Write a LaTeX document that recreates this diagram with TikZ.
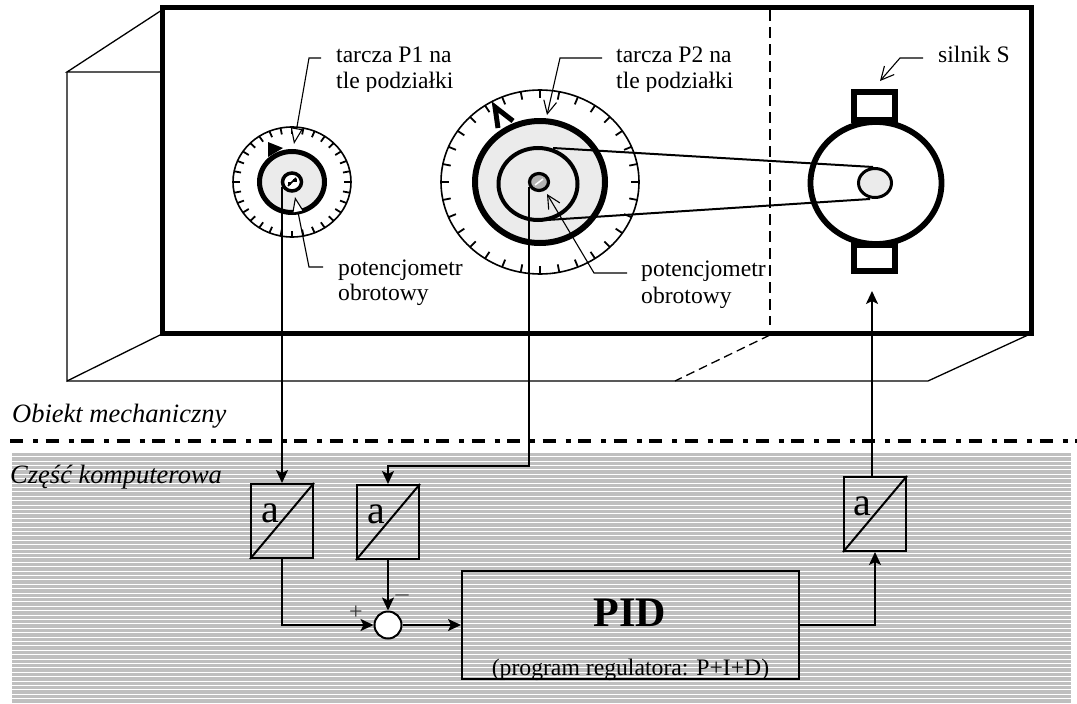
\documentclass[tikz,border=0pt]{standalone}
\usepackage{fontspec}
\setmainfont{Liberation Serif}
\usetikzlibrary{arrows.meta}
\definecolor{hatchgray}{gray}{0.75}
\newcommand{\txtsize}{\fontsize{23.6}{26}\selectfont}
\tikzset{
  label text/.style={anchor=base west, inner sep=0pt, font=\txtsize},
  italic text/.style={anchor=base west, inner sep=0pt, font=\fontsize{26.5}{28}\selectfont\itshape},
  adc/.style={draw, line width=2pt, minimum width=62pt, minimum height=74pt, inner sep=0pt},
  adc letter/.style={inner sep=0pt, font=\fontsize{40}{42}\selectfont},
  signal/.style={line width=2pt, -{Stealth[length=13pt, width=12pt, inset=3pt]}},
  leader/.style={line width=1.1pt, -{Straight Barb[length=13pt, width=13pt]}},
  open leader/.style={line width=1.1pt, -{Triangle[open, length=16pt, width=12pt, fill=white]}},
  dial fill/.style={fill=black!8},
}
\begin{document}
\begin{tikzpicture}[x=1pt, y=-1pt]
  \useasboundingbox (0,0) rectangle (1077,704);

  % ---- hatched computer part ----
  \fill[hatchgray] (12,453) rectangle (1071,704);
  \foreach \row in {0,...,56}
    \fill[white] (12,{456.2+4.4*\row}) rectangle (1071,{457.2+4.4*\row});

  % ---- housing of the mechanical part ----
  \draw[line width=1.3pt] (162,10) -- (67,72) -- (160,72);
  \draw[line width=1.3pt] (67,72) -- (67,381) -- (160,335);
  \draw[line width=1.3pt] (67,381) -- (928,381) -- (1028,335);
  \draw[line width=1.3pt, dash pattern=on 9pt off 5pt] (770,335) -- (675,381);
  \draw[line width=1.5pt, dash pattern=on 11pt off 6pt] (770,10) -- (770,325);
  \draw[line width=5pt] (162.5,7.5) rectangle (1031,333);

  % ---- dial P1 ----
  \begin{scope}[shift={(292,182)}]
    \draw[line width=1.6pt] (0,0) ellipse (59 and 55);
    \foreach \tick in {0,...,31}
      \draw[line width=1.8pt] ({59*cos(11.25*\tick)},{55*sin(11.25*\tick)}) -- ({52*cos(11.25*\tick)},{48.5*sin(11.25*\tick)});
    \draw[line width=5pt, dial fill] (0,0) ellipse (32.5 and 30.5);
    % pointer of the dial
    \fill (-24,-40) -- (-24,-25) -- (-9,-34) -- cycle;
    \draw[line width=3.5pt, fill=white] (0,0) ellipse (9.5 and 9);
    \draw[line width=1.6pt] (-4,4) -- (4,-4);
    \fill (-4.5,0) rectangle (-1,3);
    \fill (1,-3) rectangle (4.5,0);
  \end{scope}

  % ---- dial P2 ----
  \begin{scope}[shift={(540,182)}]
    \draw[line width=1.6pt] (0,0) ellipse (99 and 92);
    \foreach \tick in {0,...,31}
      \draw[line width=1.8pt] ({99*cos(11.25*\tick)},{92*sin(11.25*\tick)}) -- ({91*cos(11.25*\tick)},{84*sin(11.25*\tick)});
    \draw[line width=6pt, dial fill] (0,0) ellipse (65 and 61);
    \draw[line width=4pt] (-2,2) ellipse (39.5 and 36);
    % pointer of the dial
    \draw[line width=5pt] (-42,-54) -- (-45,-75) -- (-27,-61);
    \draw[line width=3.2pt, fill=black!30] (-1,0) ellipse (9.5 and 8.5);
    \draw[white, line width=1.5pt] (-5,3) -- (3,-3);
  \end{scope}

  % ---- motor S ----
  \draw[line width=5.5pt] (854,92) rectangle (895,120);
  \draw[line width=5.5pt] (854,245) rectangle (895,271);
  \draw[line width=5.8pt, fill=white] (876,183) ellipse (65.5 and 61);
  \draw[line width=2pt] (553,148) -- (873,167);
  \draw[line width=2pt] (547,220) -- (870,199);
  \draw[line width=3pt, dial fill] (875,183) ellipse (16.5 and 14.5);

  % ---- texts of the upper part ----
  \begin{scope}
    \clip (330,30) rectangle (460,91);
    \node[label text] (tarczaA) at (336,62) {tarcza P1 na};
    \node[label text] (tloA) at (336,88) {tle podziałki};
  \end{scope}
  \begin{scope}
    \clip (610,30) rectangle (745,91);
    \node[label text] (tarczaB) at (616,62) {tarcza P2 na};
    \node[label text] (tloB) at (616,88) {tle podziałki};
  \end{scope}
  \node[label text] (silnik) at (938,62) {silnik S};
  \begin{scope}
    \clip (330,255) rectangle (470,305);
    \node[label text] (potA) at (338,275) {potencjometr};
    \node[label text] (obrA) at (338,300) {obrotowy};
  \end{scope}
  \begin{scope}
    \clip (635,255) rectangle (769,307);
    \node[label text] (potB) at (641,276) {potencjometr};
    \node[label text] (obrB) at (641,303) {obrotowy};
  \end{scope}
  \node[italic text] (obiekt) at (12,422) {Obiekt mechaniczny};
  \node[italic text] (czesc) at (10,483) {Część komputerowa};

  % ---- leaders to the dials and the motor ----
  \coordinate (tipA) at (294,144);
  \coordinate (tipB) at (295,197);
  \coordinate (tipC) at (547,115);
  \coordinate (tipD) at (547,194);
  \coordinate (tipE) at (880,81);
  \draw[open leader] (321,58) -- (309,58) -- (tipA);
  \draw[open leader] (323,267) -- (309,267) -- (tipB);
  \draw[leader] (602,58) -- (560,58) -- (tipC);
  \draw[leader] (627,273) -- (594,273) -- (tipD);
  \draw[leader] (923,58) -- (900,58) -- (tipE);

  % ---- separating line ----
  \draw[line width=3.4pt, dash pattern=on 13pt off 10pt on 5pt off 7.5pt] (10,441) -- (1077,441);

  % ---- control loop ----
  \node[adc] (adcA) at (282,521) {};
  \node[adc] (adcB) at (388,522) {};
  \node[adc] (adcC) at (875,514) {};
  \node[draw, line width=2pt, minimum width=337pt, minimum height=108pt, inner sep=0pt] (pid) at (630.5,625) {};
  \node[circle, draw, fill=white, line width=2pt, minimum size=27pt, inner sep=0pt] (sum) at (388,625) {};
  \foreach \conv in {adcA,adcB,adcC}
    \draw[line width=2pt] (\conv.south west) -- (\conv.north east);
  \node[adc letter] (letterA) at (270,513) {a};
  \node[adc letter] (letterB) at (376,514) {a};
  \node[adc letter] (letterC) at (862,506) {a};
  \node[inner sep=0pt, font=\fontsize{42}{44}\selectfont\bfseries] (pidname) at (630,613) {PID};
  \node[inner sep=0pt, anchor=base, font=\fontsize{23.7}{26}\selectfont] (pidtext) at (630.5,675) {(program regulatora: P+I+D)};
  \node[inner sep=0pt, font=\fontsize{24}{26}\selectfont, black!80] (plus) at (356,613) {+};
  \node[inner sep=0pt, font=\fontsize{26}{28}\selectfont, black!70] (minus) at (402,598) {--};

  \coordinate (hubA) at (282,187);
  \coordinate (hubB) at (529,187);
  \coordinate (kneeB) at (388,466);
  \coordinate (motorIn) at (872,291);
  \draw[signal] (hubA) -- (adcA.north);
  \draw[signal] (hubB) |- (kneeB) -- (adcB.north);
  \draw[signal] (adcA.south) |- (sum.west);
  \draw[signal] (adcB.south) -- (sum.north);
  \draw[signal] (sum.east) -- (pid.west);
  \draw[signal] (pid.east) -| (adcC.south);
  \draw[signal] (adcC.north -| motorIn) -- (motorIn);

\end{tikzpicture}
\end{document}
